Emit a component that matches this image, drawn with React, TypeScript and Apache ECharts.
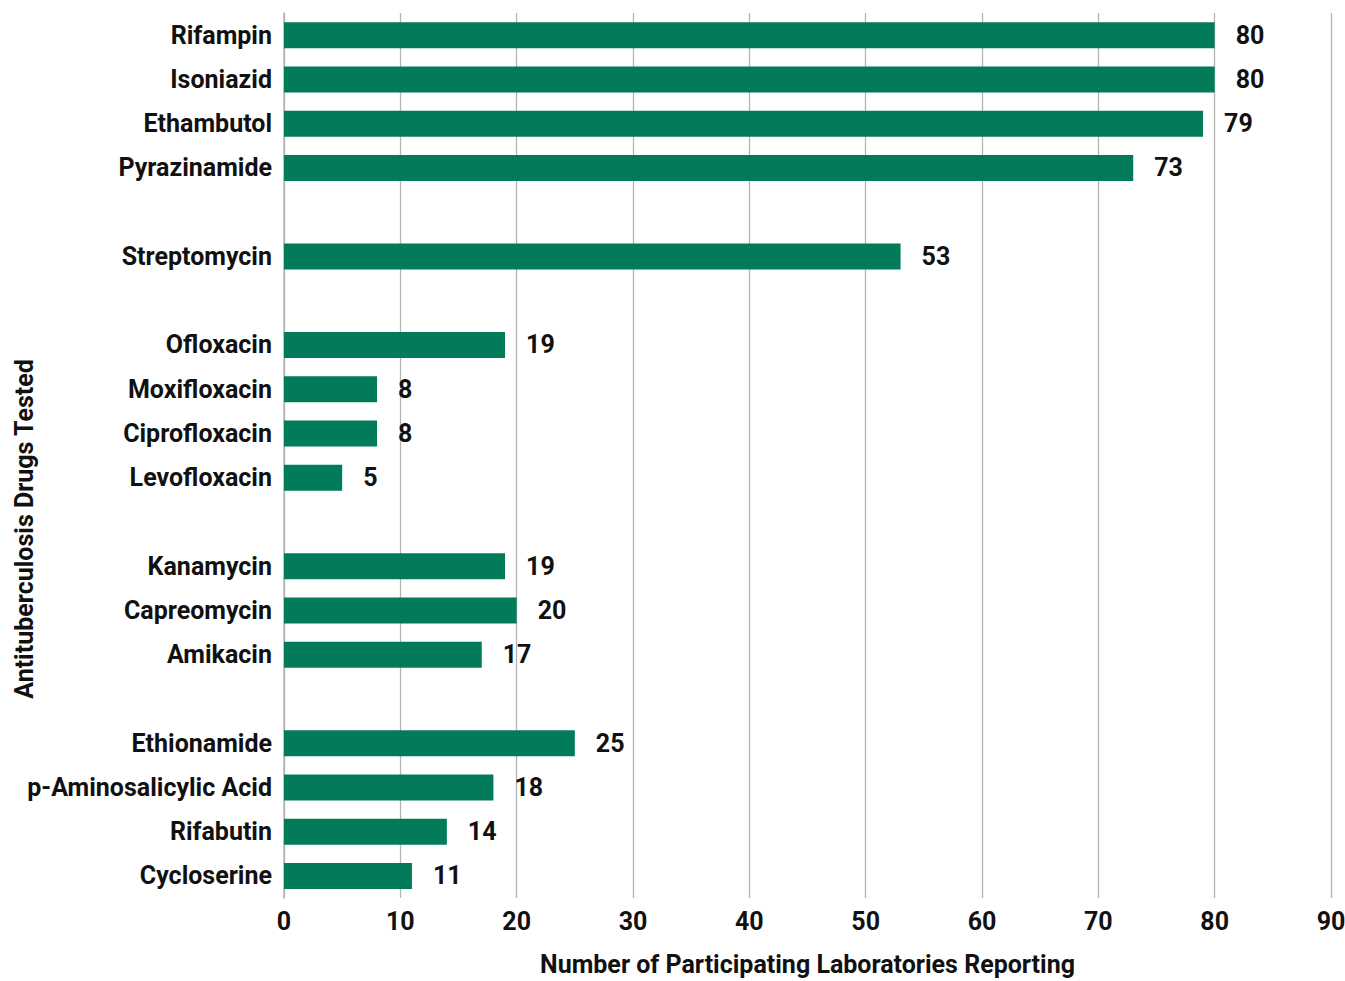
import React, { useEffect, useRef } from "react";
import * as echarts from "echarts";

const categories = [
  "Rifampin",
  "Isoniazid",
  "Ethambutol",
  "Pyrazinamide",
  " ",
  "Streptomycin",
  "  ",
  "Ofloxacin",
  "Moxifloxacin",
  "Ciprofloxacin",
  "Levofloxacin",
  "   ",
  "Kanamycin",
  "Capreomycin",
  "Amikacin",
  "    ",
  "Ethionamide",
  "p-Aminosalicylic Acid",
  "Rifabutin",
  "Cycloserine",
];

const values: (number | null)[] = [
  80, 80, 79, 73, null, 53, null, 19, 8, 8, 5, null, 19, 20, 17, null, 25, 18, 14, 11,
];

const xTicks = [0, 10, 20, 30, 40, 50, 60, 70, 80, 90];

const FONT = "Roboto, 'Liberation Sans', sans-serif";
const FS = 25;
const GREEN = "#027B5A";
const GRAY = "#b4b4b4";
const TXT = "#111";

export default function App() {
  const ref = useRef<HTMLDivElement>(null);
  useEffect(() => {
    if (!ref.current) return;
    const chart = echarts.init(ref.current, null, { renderer: "svg" });
    chart.setOption({
      animation: false,
      backgroundColor: "#ffffff",
      grid: {
        left: 284,
        right: 14,
        top: 13,
        bottom: 83,
        containLabel: false,
        outerBoundsMode: "none",
      },
      xAxis: {
        type: "value",
        min: xTicks[0],
        max: xTicks[xTicks.length - 1],
        interval: 10,
        axisLine: { show: false },
        axisTick: { show: false },
        splitLine: { show: true, lineStyle: { color: GRAY, width: 1.3 } },
        axisLabel: {
          fontFamily: FONT,
          fontWeight: "bold",
          fontSize: FS,
          color: TXT,
          margin: 11,
        },
        name: "Number of Participating Laboratories Reporting",
        nameLocation: "middle",
        nameGap: 54,
        nameTextStyle: {
          fontFamily: FONT,
          fontWeight: "bold",
          fontSize: FS,
          color: TXT,
        },
      },
      yAxis: {
        type: "category",
        data: categories,
        inverse: true,
        axisLine: { show: true, lineStyle: { color: GRAY, width: 1.5 } },
        axisTick: { show: false },
        splitLine: { show: false },
        axisLabel: {
          fontFamily: FONT,
          fontWeight: "bold",
          fontSize: FS,
          color: TXT,
          margin: 12,
        },
      },
      graphic: [
        {
          type: "text",
          x: 24,
          y: 529,
          rotation: Math.PI / 2,
          style: {
            text: "Antituberculosis Drugs Tested",
            fontFamily: FONT,
            fontWeight: "bold",
            fontSize: FS,
            fill: TXT,
            align: "center",
            verticalAlign: "middle",
          },
        },
      ],
      series: [
        {
          type: "bar",
          data: values,
          barWidth: 26,
          itemStyle: { color: GREEN },
          label: {
            show: true,
            position: "right",
            distance: 21,
            fontFamily: FONT,
            fontWeight: "bold",
            fontSize: FS,
            color: TXT,
          },
        },
      ],
    });
    return () => chart.dispose();
  }, []);
  return (
    <div
      ref={ref}
      style={{ position: "absolute", left: 0, top: 0, width: 1345, height: 981 }}
    />
  );
}
